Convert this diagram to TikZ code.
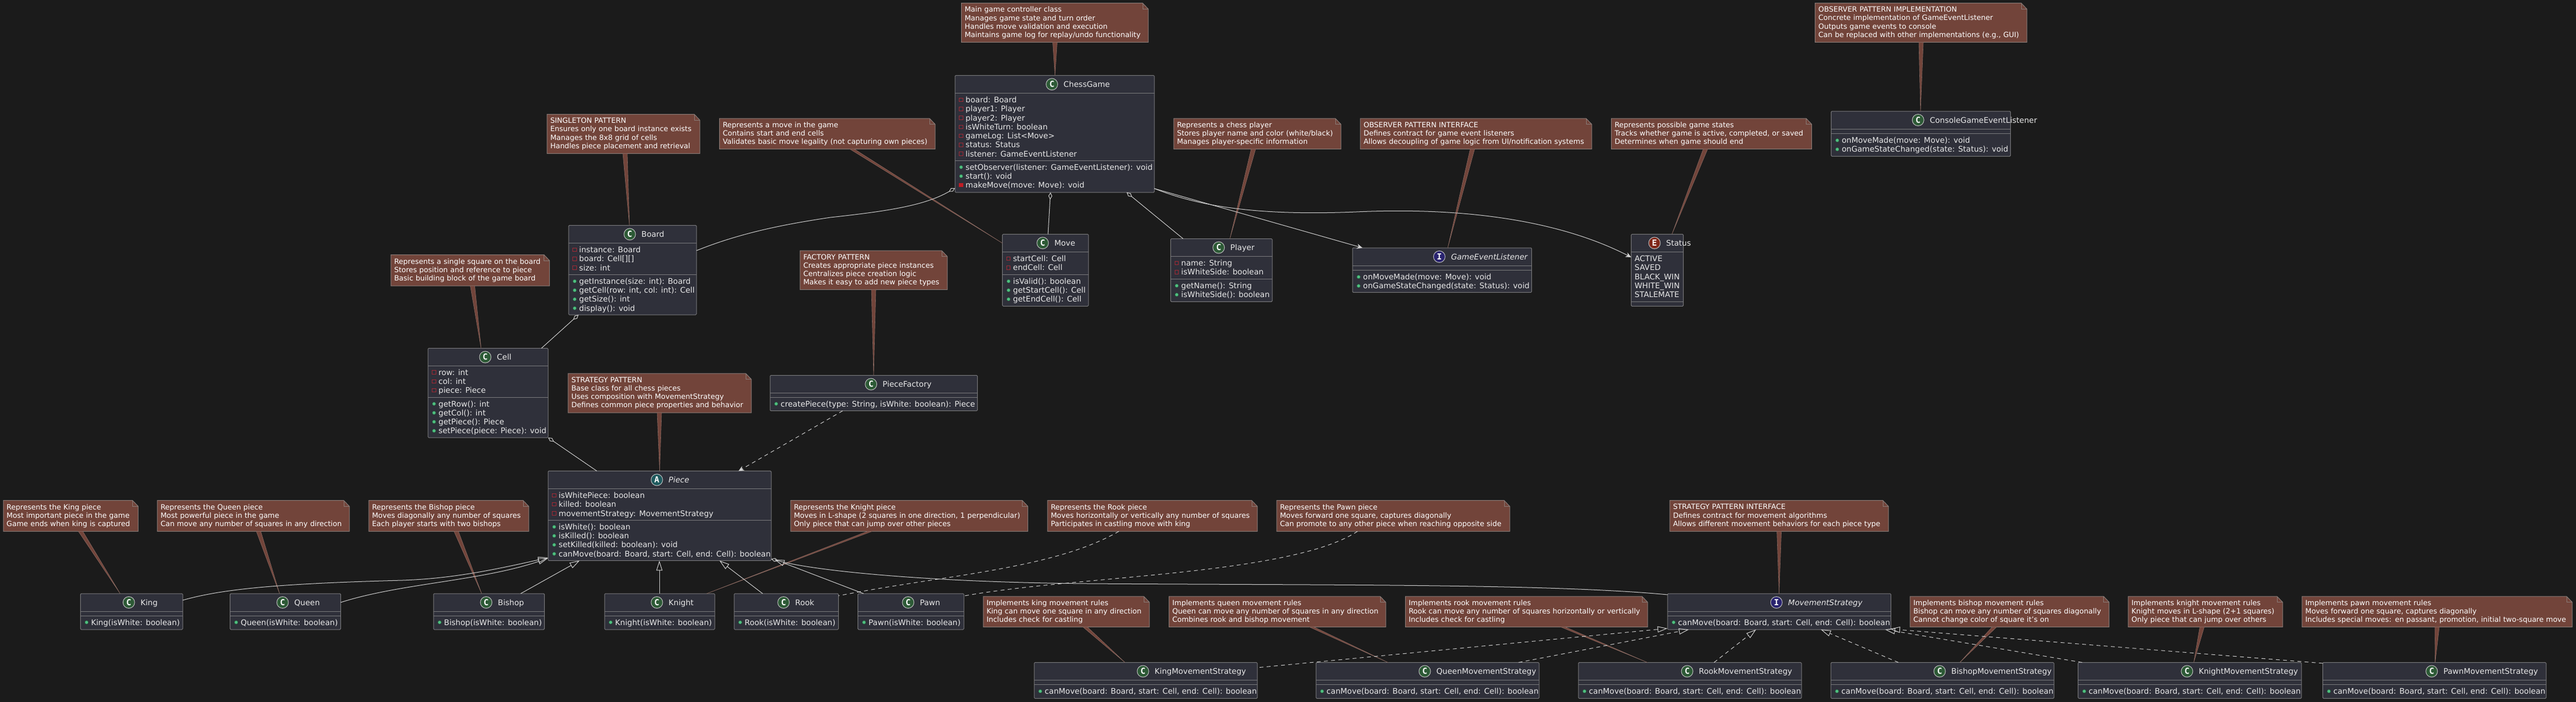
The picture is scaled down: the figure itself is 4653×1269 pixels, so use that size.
\documentclass[tikz,border=0pt]{standalone}
\usepackage{fontspec}
\setmainfont{DejaVu Sans}
\setmonofont{DejaVu Sans Mono}
\usetikzlibrary{arrows.meta}
\definecolor{bgc}{HTML}{1B1B1B}
\definecolor{classfill}{HTML}{2F303A}
\definecolor{classline}{HTML}{7C7C7E}
\definecolor{notefill}{HTML}{72443A}
\definecolor{noteline}{HTML}{8A7D79}
\definecolor{linkline}{HTML}{8A6A62}
\definecolor{connc}{HTML}{D2D2D2}
\definecolor{txtc}{HTML}{E8E8E8}
\definecolor{circC}{HTML}{2D5A36}
\definecolor{circA}{HTML}{1F5A5E}
\definecolor{circI}{HTML}{2A2470}
\definecolor{circE}{HTML}{80281A}
\definecolor{privc}{HTML}{A52A35}
\definecolor{pubc}{HTML}{4FBF80}
\newlength\ttw
\tikzset{
  classbox/.style={draw=classline,fill=classfill,line width=1pt,rounded corners=1.5pt,inner sep=0pt,outer sep=0pt,anchor=north west},
  sepline/.style={draw=classline,line width=1pt},
  notepoly/.style={draw=noteline,fill=notefill,line width=1pt},
  notebox/.style={inner xsep=6pt,inner ysep=0pt,outer sep=0pt,anchor=north west,align=left,text=white,font=\fontsize{13}{15.1}\selectfont},
  wedgelink/.style={draw=linkline,fill=notefill,line width=.6pt,line join=round},
  titletext/.style={inner sep=0pt,anchor=base west,text=txtc,font=\fontsize{14}{16}\selectfont},
  circlemark/.style={circle,draw=white!75!black,line width=1pt,inner sep=0pt,minimum size=21pt,text=white,font=\fontsize{15}{15}\selectfont\ttfamily\bfseries},
  membertext/.style={inner sep=0pt,anchor=base west,text=txtc,font=\fontsize{14}{16}\selectfont},
  conn/.style={draw=connc,line width=1pt},
  dashconn/.style={conn,dash pattern=on 7pt off 6pt},
  extendtip/.style={-{Triangle[open,length=18pt,width=11pt,line width=1pt]}},
  agtip/.style={{Diamond[open,length=13pt,width=7pt,line width=1pt]}-},
  arrowtip/.style={-{Stealth[length=10pt,width=9pt,inset=3pt]}}
}
\newcommand{\mkh}[2]{\draw[privc,line width=1pt] (#1-3.2,#2-3.2) rectangle (#1+3.2,#2+3.2);}
\newcommand{\mkf}[2]{\fill[privc!70!red] (#1-3.6,#2-3.6) rectangle (#1+3.6,#2+3.6);}
\newcommand{\mkg}[2]{\fill[pubc,draw=pubc!45!black,line width=.5pt] (#1,#2) circle (3.2);}
\newcommand{\mkn}[2]{}
% id left top right bottom sep1 sep2 letter title
\newcommand{\uclass}[9]{%
  \pgfmathsetmacro{\cw}{#4-#2}\pgfmathsetmacro{\ch}{#5-#3}%
  \node[classbox,minimum width=\cw pt,minimum height=\ch pt] (#1) at (#2,#3) {};%
  \draw[sepline] (#2,#6) -- (#4,#6);%
  \draw[sepline] (#2,#7) -- (#4,#7);%
  \settowidth{\ttw}{\fontsize{14}{16}\selectfont #9}%
  \pgfmathsetmacro{\cxa}{(#2+#4)/2-(\ttw/1pt+32)/2+11}%
  \pgfmathsetmacro{\cxb}{\cxa+21}%
  \pgfmathsetmacro{\cya}{#3+16}\pgfmathsetmacro{\cyb}{#3+21}%
  \node[circlemark,fill=circ#8] (#1-c) at (\cxa,\cya) {#8};%
  \node[titletext] (#1-t) at (\cxb,\cyb) {#9};%
}
\newcommand{\members}[5]{%
  \foreach \vv/\tt [count=\ii] in {#5} {%
    \pgfmathsetmacro{\yy}{#4+12+16.25*(\ii-1)}%
    \pgfmathsetmacro{\yb}{\yy+5}%
    \pgfmathsetmacro{\xm}{#3+11}\pgfmathsetmacro{\xt}{#3+19}%
    \csname mk\vv\endcsname{\xm}{\yy}%
    \node[membertext] (#1-#2\ii) at (\xt,\yb) {\tt};%
  }%
}
\newcommand{\enums}[4]{%
  \foreach \tt [count=\ii] in {#4} {%
    \pgfmathsetmacro{\yb}{#3+17+16.25*(\ii-1)}%
    \pgfmathsetmacro{\xt}{#2+6}%
    \node[membertext] (#1-e\ii) at (\xt,\yb) {\tt};%
  }%
}
\newcommand{\unote}[6]{%
  \pgfmathsetmacro{\fx}{#4-10}\pgfmathsetmacro{\fy}{#3+10.5}%
  \pgfmathsetmacro{\cw}{#4-#2}\pgfmathsetmacro{\ch}{#5-#3}%
  \pgfmathsetmacro{\tw}{#4-#2-12}%
  \draw[notepoly] (#2,#3) -- (\fx,#3) -- (#4,\fy) -- (#4,#5) -- (#2,#5) -- cycle;%
  \draw[notepoly,fill=none,line width=.8pt] (\fx,#3) -- (\fx,\fy) -- (#4,\fy);%
  \node[notebox,text width=\tw pt,minimum height=\ch pt] (#1) at (#2,#3) {#6};%
}
\newcommand{\nlink}[3]{%
  \pgfmathsetmacro{\bx}{#2+8}%
  \filldraw[wedgelink] ([shift={(#2,0)}]#1.south west) -- ([shift={(\bx,0)}]#1.south west) -- #3 -- cycle;%
}
\begin{document}
\begin{tikzpicture}[x=1pt,y=-1pt]
\useasboundingbox (0,0) rectangle (4653,1269);
\fill[bgc] (0,0) rectangle (4653,1269);

% ---- classes ----
\uclass{ChessGame}{1725}{136.3}{2085}{347.8}{168.6}{290.2}{C}{ChessGame}
\members{ChessGame}{a}{1725}{168.6}{h/{board: Board},h/{player1: Player},h/{player2: Player},h/{isWhiteTurn: boolean},h/{gameLog: List<Move>},h/{status: Status},h/{listener: GameEventListener}}
\members{ChessGame}{m}{1725}{290.2}{g/{setObserver(listener: GameEventListener): void},g/{start(): void},f/{makeMove(move: Move): void}}

\uclass{Board}{1027}{407.4}{1258}{569}{439.6}{496.4}{C}{Board}
\members{Board}{a}{1027}{439.6}{h/{instance: Board},h/{board: Cell[][]},h/{size: int}}
\members{Board}{m}{1027}{496.4}{g/{getInstance(size: int): Board},g/{getCell(row: int, col: int): Cell},g/{getSize(): int},g/{display(): void}}

\uclass{Cell}{773}{629.5}{990}{791}{661}{718}{C}{Cell}
\members{Cell}{a}{773}{661}{h/{row: int},h/{col: int},h/{piece: Piece}}
\members{Cell}{m}{773}{718}{g/{getRow(): int},g/{getCol(): int},g/{getPiece(): Piece},g/{setPiece(piece: Piece): void}}

\uclass{Move}{1810.7}{423.3}{1966}{553.5}{455.6}{496.4}{C}{Move}
\members{Move}{a}{1810.7}{455.6}{h/{startCell: Cell},h/{endCell: Cell}}
\members{Move}{m}{1810.7}{496.4}{g/{isValid(): boolean},g/{getStartCell(): Cell},g/{getEndCell(): Cell}}

\uclass{Player}{2114.5}{431.5}{2298}{545.4}{463.7}{504.5}{C}{Player}
\members{Player}{a}{2114.5}{463.7}{h/{name: String},h/{isWhiteSide: boolean}}
\members{Player}{m}{2114.5}{504.5}{g/{getName(): String},g/{isWhiteSide(): boolean}}

\uclass{PieceFactory}{1391}{678.5}{1765.5}{742.7}{710}{718}{C}{PieceFactory}
\members{PieceFactory}{m}{1391}{718}{g/{createPiece(type: String, isWhite: boolean): Piece}}

\uclass{GameEventListener}{2443}{448}{2766.6}{528.6}{480.5}{488.6}{I}{\itshape GameEventListener}
\members{GameEventListener}{m}{2443}{488.6}{g/{onMoveMade(move: Move): void},g/{onGameStateChanged(state: Status): void}}

\uclass{Status}{2946.4}{423.3}{3040.5}{553.5}{455.6}{545.4}{E}{Status}
\enums{Status}{2946.4}{455.6}{ACTIVE,SAVED,BLACK\_WIN,WHITE\_WIN,STALEMATE}

\uclass{ConsoleListener}{3307.6}{201}{3631.6}{282.5}{233.5}{241.7}{C}{ConsoleGameEventListener}
\members{ConsoleListener}{m}{3307.6}{241.7}{g/{onMoveMade(move: Move): void},g/{onGameStateChanged(state: Status): void}}

\uclass{Piece}{990}{851.4}{1393}{1013.4}{883.5}{940.4}{A}{\itshape Piece}
\members{Piece}{a}{990}{883.5}{h/{isWhitePiece: boolean},h/{killed: boolean},h/{movementStrategy: MovementStrategy}}
\members{Piece}{m}{990}{940.4}{g/{isWhite(): boolean},g/{isKilled(): boolean},g/{setKilled(killed: boolean): void},g/{canMove(board: Board, start: Cell, end: Cell): boolean}}

\uclass{King}{145.4}{1073}{330}{1138}{1105}{1113}{C}{King}
\members{King}{m}{145.4}{1113}{g/{King(isWhite: boolean)}}
\uclass{Queen}{415.6}{1073}{615.3}{1138}{1105}{1113}{C}{Queen}
\members{Queen}{m}{415.6}{1113}{g/{Queen(isWhite: boolean)}}
\uclass{Bishop}{783}{1073}{983.4}{1138}{1105}{1113}{C}{Bishop}
\members{Bishop}{m}{783}{1113}{g/{Bishop(isWhite: boolean)}}
\uclass{Knight}{1092}{1073}{1291}{1138}{1105}{1113}{C}{Knight}
\members{Knight}{m}{1092}{1113}{g/{Knight(isWhite: boolean)}}
\uclass{Rook}{1326}{1073}{1514.5}{1138}{1105}{1113}{C}{Rook}
\members{Rook}{m}{1326}{1113}{g/{Rook(isWhite: boolean)}}
\uclass{Pawn}{1549.7}{1073}{1741}{1138}{1105}{1113}{C}{Pawn}
\members{Pawn}{m}{1549.7}{1113}{g/{Pawn(isWhite: boolean)}}

\uclass{MovementStrategy}{3012}{1073}{3415.5}{1138}{1105}{1113}{I}{\itshape MovementStrategy}
\members{MovementStrategy}{m}{3012}{1113}{g/{canMove(board: Board, start: Cell, end: Cell): boolean}}

\uclass{KingMS}{1868}{1197.5}{2271}{1262.5}{1229.6}{1237.6}{C}{KingMovementStrategy}
\members{KingMS}{m}{1868}{1237.6}{g/{canMove(board: Board, start: Cell, end: Cell): boolean}}
\uclass{QueenMS}{2377}{1197.5}{2780}{1262.5}{1229.6}{1237.6}{C}{QueenMovementStrategy}
\members{QueenMS}{m}{2377}{1237.6}{g/{canMove(board: Board, start: Cell, end: Cell): boolean}}
\uclass{RookMS}{2851}{1197.5}{3254}{1262.5}{1229.6}{1237.6}{C}{RookMovementStrategy}
\members{RookMS}{m}{2851}{1237.6}{g/{canMove(board: Board, start: Cell, end: Cell): boolean}}
\uclass{BishopMS}{3307}{1197.5}{3710}{1262.5}{1229.6}{1237.6}{C}{BishopMovementStrategy}
\members{BishopMS}{m}{3307}{1237.6}{g/{canMove(board: Board, start: Cell, end: Cell): boolean}}
\uclass{KnightMS}{3753.7}{1197.5}{4157}{1262.5}{1229.6}{1237.6}{C}{KnightMovementStrategy}
\members{KnightMS}{m}{3753.7}{1237.6}{g/{canMove(board: Board, start: Cell, end: Cell): boolean}}
\uclass{PawnMS}{4195.6}{1197.5}{4599}{1262.5}{1229.6}{1237.6}{C}{PawnMovementStrategy}
\members{PawnMS}{m}{4195.6}{1237.6}{g/{canMove(board: Board, start: Cell, end: Cell): boolean}}

% ---- notes ----
\unote{nChess}{1736.5}{5.7}{2074}{76.3}{Main game controller class\\Manages game state and turn order\\Handles move validation and execution\\Maintains game log for replay/undo functionality}
\unote{nBoard}{988}{206.5}{1264}{277.6}{SINGLETON PATTERN\\Ensures only one board instance exists\\Manages the 8x8 grid of cells\\Handles piece placement and retrieval}
\unote{nCell}{706}{460.5}{992.6}{516.8}{Represents a single square on the board\\Stores position and reference to piece\\Basic building block of the game board}
\unote{nMove}{1299.5}{214}{1689}{269.4}{Represents a move in the game\\Contains start and end cells\\Validates basic move legality (not capturing own pieces)}
\unote{nPlayer}{2120}{214}{2422}{269.4}{Represents a chess player\\Stores player name and color (white/black)\\Manages player-specific information}
\unote{nListener}{2457}{214}{2875}{269.4}{OBSERVER PATTERN INTERFACE\\Defines contract for game event listeners\\Allows decoupling of game logic from UI/notification systems}
\unote{nStatus}{2910.5}{214}{3272.4}{269.4}{Represents possible game states\\Tracks whether game is active, completed, or saved\\Determines when game should end}
\unote{nConsole}{3278.6}{5.7}{3661}{76.3}{OBSERVER PATTERN IMPLEMENTATION\\Concrete implementation of GameEventListener\\Outputs game events to console\\Can be replaced with other implementations (e.g., GUI)}
\unote{nFactory}{1445}{453}{1711}{523.7}{FACTORY PATTERN\\Creates appropriate piece instances\\Centralizes piece creation logic\\Makes it easy to add new piece types}
\unote{nPiece}{1026}{675}{1357}{746}{STRATEGY PATTERN\\Base class for all chess pieces\\Uses composition with MovementStrategy\\Defines common piece properties and behavior}
\unote{nKing}{6}{904.7}{249.5}{960.5}{Represents the King piece\\Most important piece in the game\\Game ends when king is captured}
\unote{nQueen}{284}{904.7}{631}{960.5}{Represents the Queen piece\\Most powerful piece in the game\\Can move any number of squares in any direction}
\unote{nBishop}{666}{904.7}{955}{960.5}{Represents the Bishop piece\\Moves diagonally any number of squares\\Each player starts with two bishops}
\unote{nKnight}{1428}{904.7}{1856.6}{960.5}{Represents the Knight piece\\Moves in L-shape (2 squares in one direction, 1 perpendicular)\\Only piece that can jump over other pieces}
\unote{nRook}{1892}{904.7}{2271}{960.5}{Represents the Rook piece\\Moves horizontally or vertically any number of squares\\Participates in castling move with king}
\unote{nPawn}{2306}{904.7}{2727}{960.5}{Represents the Pawn piece\\Moves forward one square, captures diagonally\\Can promote to any other piece when reaching opposite side}
\unote{nMS}{3016}{904.7}{3411}{960.5}{STRATEGY PATTERN INTERFACE\\Defines contract for movement algorithms\\Allows different movement behaviors for each piece type}
\unote{nKingMS}{1776}{1078}{2076}{1133.3}{Implements king movement rules\\King can move one square in any direction\\Includes check for castling}
\unote{nQueenMS}{2111.5}{1078}{2503}{1133.3}{Implements queen movement rules\\Queen can move any number of squares in any direction\\Combines rook and bishop movement}
\unote{nRookMS}{2538.5}{1078}{2976}{1133.3}{Implements rook movement rules\\Rook can move any number of squares horizontally or vertically\\Includes check for castling}
\unote{nBishopMS}{3450}{1078}{3809.6}{1133.3}{Implements bishop movement rules\\Bishop can move any number of squares diagonally\\Cannot change color of square it's on}
\unote{nKnightMS}{3844}{1078}{4123}{1133.3}{Implements knight movement rules\\Knight moves in L-shape (2+1 squares)\\Only piece that can jump over others}
\unote{nPawnMS}{4158}{1078}{4646}{1133.3}{Implements pawn movement rules\\Moves forward one square, captures diagonally\\Includes special moves: en passant, promotion, initial two-square move}

% ---- note links ----
\nlink{nBoard}{137}{([shift={(110,0)}]Board.north west)}
\nlink{nCell}{143.5}{([shift={(96,0)}]Cell.north west)}
\nlink{nChess}{165}{([shift={(180.6,0)}]ChessGame.north west)}
\nlink{nMove}{235.5}{([shift={(0,16.3)}]Move.north west)}
\nlink{nPlayer}{140}{([shift={(107,0)}]Player.north west)}
\nlink{nFactory}{129}{([shift={(187,0)}]PieceFactory.north west)}
\nlink{nListener}{198.6}{([shift={(172,0)}]GameEventListener.north west)}
\nlink{nStatus}{166}{([shift={(73.6,0)}]Status.north west)}
\nlink{nConsole}{187.4}{([shift={(161.4,0)}]ConsoleListener.north west)}
\nlink{nPiece}{161}{([shift={(201.5,0)}]Piece.north west)}
\nlink{nKing}{135.6}{([shift={(71.6,0)}]King.north west)}
\nlink{nQueen}{179}{([shift={(89.4,0)}]Queen.north west)}
\nlink{nBishop}{154}{([shift={(87,0)}]Bishop.north west)}
\nlink{nKnight}{139}{([shift={(184.5,0)}]Knight.north west)}
\nlink{nMS}{193.6}{([shift={(201.5,0)}]MovementStrategy.north west)}
\nlink{nKingMS}{180}{([shift={(164,0)}]KingMS.north west)}
\nlink{nQueenMS}{253.5}{([shift={(130,0)}]QueenMS.north west)}
\nlink{nRookMS}{280.5}{([shift={(124.5,0)}]RookMS.north west)}
\nlink{nBishopMS}{148.5}{([shift={(233,0)}]BishopMS.north west)}
\nlink{nKnightMS}{129.5}{([shift={(208.8,0)}]KnightMS.north west)}
\nlink{nPawnMS}{240}{([shift={(202.9,0)}]PawnMS.north west)}
\draw[dashconn] ([shift={(129,0)}]nRook.south west) .. controls (1900,1030) and (1700,1040) .. ([shift={(0,4)}]Rook.north east);
\draw[dashconn] ([shift={(146,0)}]nPawn.south west) .. controls (2330,1040) and (1950,1040) .. ([shift={(1.5,4)}]Pawn.north east);

% ---- associations ----
\draw[conn,agtip] ([shift={(0,203.7)}]ChessGame.north west) .. controls (1670,372) and (1600,382) .. (1500,393) .. controls (1420,405) and (1340,420) .. ([shift={(0,45.6)}]Board.north east);
\draw[conn,agtip] ([shift={(172.5,0)}]ChessGame.south west) -- ([shift={(82.3,0)}]Move.north west);
\draw[conn,agtip] ([shift={(310,0)}]ChessGame.south west) -- ([shift={(22.5,0)}]Player.north west);
\draw[conn,arrowtip] ([shift={(0,-7)}]ChessGame.south east) -- ([shift={(18,0)}]GameEventListener.north west);
\draw[conn,arrowtip] ([shift={(0,-7)}]ChessGame.south east) .. controls (2170,375) and (2280,390) .. (2450,383) .. controls (2650,374) and (2820,400) .. ([shift={(0,41.7)}]Status.north west);
\draw[conn,agtip] ([shift={(18,0)}]Board.south west) -- ([shift={(205,0)}]Cell.north west);
\draw[conn,agtip] (Cell.south east) -- ([shift={(88,0)}]Piece.north west);
\draw[dashconn,arrowtip] ([shift={(131,0)}]PieceFactory.south west) -- ([shift={(344,0)}]Piece.north west);

% ---- inheritance ----
\draw[conn,extendtip] ([shift={(0,12)}]King.north east) .. controls (400,1065) and (500,1055) .. (727,1049) .. controls (810,1046) and (880,1033) .. ([shift={(0,-5.4)}]Piece.south west);
\draw[conn,extendtip] ([shift={(0,16)}]Queen.north east) .. controls (720,1055) and (870,1050) .. ([shift={(0,-4.4)}]Piece.south west);
\draw[conn,extendtip] ([shift={(157.5,0)}]Bishop.north west) -- ([shift={(57,0)}]Piece.south west);
\draw[conn,extendtip] ([shift={(99,0)}]Knight.north west) -- ([shift={(201,0)}]Piece.south west);
\draw[conn,extendtip] ([shift={(51.5,0)}]Rook.north west) -- ([shift={(309.5,0)}]Piece.south west);
\draw[conn,extendtip] ([shift={(10,0)}]Pawn.north west) -- ([shift={(6,-2)}]Piece.south east);
\draw[conn,agtip] ([shift={(0,-3)}]Piece.south east) .. controls (1480,1034) and (1700,1053) .. (1965,1055) .. controls (2400,1058) and (2800,1055) .. ([shift={(0,2)}]MovementStrategy.north west);

% ---- realisation ----
\draw[dashconn,extendtip] ([shift={(4,9)}]KingMS.north east) -- ([shift={(0,-2)}]MovementStrategy.south west);
\draw[dashconn,extendtip] ([shift={(366,0)}]QueenMS.north west) -- ([shift={(38.5,0)}]MovementStrategy.south west);
\draw[dashconn,extendtip] ([shift={(245,0)}]RookMS.north west) -- ([shift={(160,0)}]MovementStrategy.south west);
\draw[dashconn,extendtip] ([shift={(122,0)}]BishopMS.north west) -- ([shift={(277,0)}]MovementStrategy.south west);
\draw[dashconn,extendtip] ([shift={(7.3,0)}]KnightMS.north west) -- ([shift={(393,0)}]MovementStrategy.south west);
\draw[dashconn,extendtip] ([shift={(0,1.5)}]PawnMS.north west) -- ([shift={(-1.5,-1)}]MovementStrategy.south east);
\end{tikzpicture}
\end{document}
